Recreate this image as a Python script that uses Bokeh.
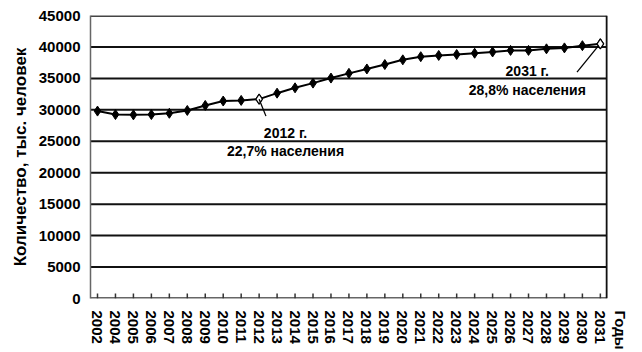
from bokeh.plotting import figure
from bokeh.models import FixedTicker, Label, Range1d, ColumnDataSource, Title
from bokeh.embed import file_html
from bokeh.resources import INLINE

# Population aged over working age, thousands of people
years = ["2002", "2004", "2005", "2006", "2007", "2008", "2009", "2010", "2011", "2012",
         "2013", "2014", "2015", "2016", "2017", "2018", "2019", "2020", "2021", "2022",
         "2023", "2024", "2025", "2026", "2027", "2028", "2029", "2030", "2031"]
values = [29800, 29250, 29200, 29250, 29450, 29900, 30700, 31400, 31500, 31700,
          32650, 33500, 34250, 35050, 35800, 36500, 37200, 37950, 38450, 38650,
          38800, 39000, 39200, 39450, 39450, 39700, 39850, 40200, 40500]
highlight_years = ["2012", "2031"]
y_ticks = [0, 5000, 10000, 15000, 20000, 25000, 30000, 35000, 40000, 45000]
x_caption = "Годы"

FONT = "Liberation Sans"
idx = list(range(len(years)))
n = len(years)

# the plotting box ends a little after the last year; the caption sits outside it
x_lo, box_hi, x_hi = -0.39, n - 1 + 0.35, n - 1 + 1.79
caption_pos = n - 1 + 1.12
y_lo, y_hi = y_ticks[0], y_ticks[-1]

p = figure(width=642, height=352, output_backend="svg", toolbar_location=None,
           x_range=Range1d(x_lo, x_hi), y_range=Range1d(y_lo, y_hi),
           min_border_left=90, min_border_right=10, min_border_top=15, min_border_bottom=54)
p.background_fill_color = "white"
p.border_fill_color = "white"
p.outline_line_color = None
p.xgrid.grid_line_color = None
p.ygrid.grid_line_color = None

# axes
p.xaxis.ticker = FixedTicker(ticks=idx + [caption_pos])
p.xaxis.major_label_overrides = {**{i: y for i, y in enumerate(years)}, caption_pos: x_caption}
p.xaxis.major_label_orientation = "vertical"
p.xaxis.major_tick_line_color = None
p.xaxis.minor_tick_line_color = None
p.xaxis.axis_line_color = None
p.xaxis.major_label_standoff = 6
p.yaxis.ticker = FixedTicker(ticks=y_ticks)
p.yaxis.major_tick_in = 0
p.yaxis.major_tick_out = 0
p.yaxis.minor_tick_line_color = None
p.yaxis.major_label_standoff = 10
p.yaxis.axis_line_color = "#666666"
p.yaxis.axis_line_width = 1.5
for ax in (p.xaxis[0], p.yaxis[0]):
    ax.major_label_text_font = FONT
    ax.major_label_text_font_style = "bold"
    ax.major_label_text_font_size = "15px"
    ax.major_label_text_color = "black"

p.add_layout(Title(text="Количество, тыс. человек", align="center", offset=28,
                   text_font=FONT, text_font_style="bold", text_font_size="17px",
                   text_color="black", standoff=12), "left")

# horizontal grid and box edges, limited to the plotting box
inner = y_ticks[1:-1]
p.segment(x0=[x_lo] * len(inner), y0=inner, x1=[box_hi] * len(inner), y1=inner,
          line_color="#111111", line_width=2)
p.segment(x0=[x_lo, x_lo], y0=[y_hi, y_lo], x1=[box_hi, box_hi], y1=[y_hi, y_lo],
          line_color=["#444444", "#666666"], line_width=3)
p.segment(x0=[box_hi], y0=[y_lo], x1=[box_hi], y1=[y_hi], line_color="#111111", line_width=1.8)

# inward tick marks on the year axis
p.segment(x0=idx, y0=[y_lo] * n, x1=idx, y1=[y_lo + 800] * n, line_color="#333333", line_width=1.5)

# series line and markers
src = ColumnDataSource(dict(x=idx, y=values))
p.line("x", "y", source=src, line_color="black", line_width=2)
p.scatter("x", "y", source=src, marker="diamond", size=10, fill_color="black", line_color="black")

hx = [years.index(y) for y in highlight_years]
hy = [values[i] for i in hx]
p.scatter(hx, hy, marker="diamond", size=10, fill_color="white", line_color="black", line_width=1.2)

# leader lines for the callouts
p.segment(x0=[hx[0], hx[1] - 0.1], y0=[hy[0], hy[1] - 300],
          x1=[hx[0] + 0.38, hx[1] - 1.3], y1=[29000, 36000],
          line_color="black", line_width=1.3)

def note(x, y, text):
    p.add_layout(Label(x=x, y=y, text=text, text_align="center", text_baseline="middle",
                       text_font=FONT, text_font_style="bold", text_font_size="14px",
                       text_color="black"))

note(10.47, 26300, "2012 г.")
note(10.47, 23380, "22,7% населения")
note(23.93, 36250, "2031 г.")
note(23.93, 33230, "28,8% населения")

open("out.html", "w").write(file_html(p, INLINE))
